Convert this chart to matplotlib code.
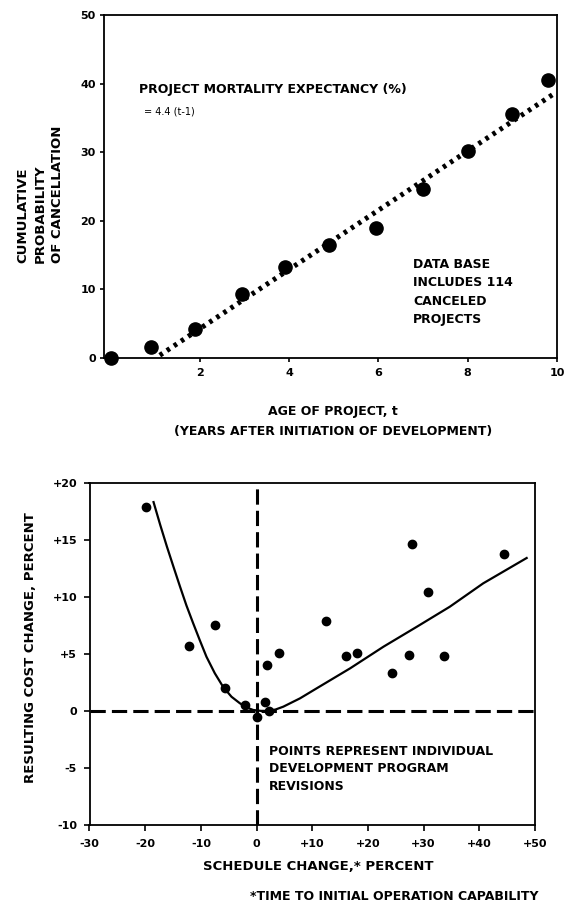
"""Project cancellation probability and cost vs. schedule change (two stacked panels)."""
import matplotlib
matplotlib.use("Agg")
import matplotlib.pyplot as plt

W, H = 566, 908

# --- top panel: cumulative probability of cancellation
age_years = [0.0, 0.9, 1.9, 2.95, 3.9, 4.9, 5.95, 7.0, 8.0, 9.0, 9.8]
cancel_pct = [0.0, 1.6, 4.3, 9.3, 13.2, 16.4, 19.0, 24.6, 30.2, 35.5, 40.5]
fit_age = [1.1, 9.95]
fit_pct = [0.4, 38.6]
top_xticks = [2, 4, 6, 8, 10]
top_yticks = [0, 10, 20, 30, 40, 50]

# --- bottom panel: cost change vs schedule change
sched_pct = [-19.9, -12.1, -7.4, -5.6, -2.0, 0.0, 1.5, 2.3, 1.9, 4.0,
             12.5, 16.0, 18.1, 24.4, 27.3, 27.9, 30.8, 33.7, 44.4]
cost_pct = [17.9, 5.7, 7.5, 2.0, 0.5, -0.5, 0.8, 0.0, 4.0, 5.05,
            7.9, 4.85, 5.05, 3.3, 4.9, 14.6, 10.4, 4.85, 13.75]
curve_sched = [-18.5, -17.3, -16.1, -14.9, -13.75, -12.6, -11.4, -10.2, -9.0,
               -7.5, -6.0, -4.5, -3.0, -1.8, -0.6, 0.8, 2.0, 3.4,
               4.8, 7.8, 10.8, 16.8, 22.8, 28.8, 34.7, 40.7, 48.5]
curve_cost = [18.3, 16.3, 14.4, 12.6, 10.9, 9.25, 7.7, 6.2, 4.75,
              3.3, 2.1, 1.24, 0.67, 0.3, 0.08, 0.0, 0.0, 0.12,
              0.37, 1.1, 1.98, 3.73, 5.63, 7.38, 9.13, 11.18, 13.4]
bot_xticks = [-30, -20, -10, 0, 10, 20, 30, 40, 50]
bot_xlabels = ["-30", "-20", "-10", "0", "+10", "+20", "+30", "+40", "+50"]
bot_yticks = [-10, -5, 0, 5, 10, 15, 20]
bot_ylabels = ["-10", "-5", "0", "+5", "+10", "+15", "+20"]


def box(left, top, right, bottom):
    """Pixel box -> figure fraction rect."""
    return [left / W, 1 - bottom / H, (right - left) / W, (bottom - top) / H]


def ftext(fig, x, y, s, **kw):
    kw.setdefault("fontweight", "bold")
    fig.text(x / W, 1 - y / H, s, **kw)


def style_axes(ax, pad_x, pad_y, tick_len):
    for sp in ax.spines.values():
        sp.set_linewidth(1.3)
    ax.tick_params(direction="out", length=tick_len, width=1.2, labelsize=8)
    ax.tick_params(axis="x", pad=pad_x)
    ax.tick_params(axis="y", pad=pad_y)
    for lab in ax.get_xticklabels() + ax.get_yticklabels():
        lab.set_fontweight("bold")


def main():
    plt.rcParams["font.family"] = "DejaVu Sans"
    fig = plt.figure(figsize=(W / 100, H / 100), dpi=100)

    # top panel
    ax1 = fig.add_axes(box(104, 15, 557, 358))
    ax1.plot(fit_age, fit_pct, color="k", linewidth=3.6, linestyle=(0, (0.7, 1.0)))
    ax1.plot(age_years, cancel_pct, "o", color="k", markersize=9.5, clip_on=False, zorder=3)
    ax1.set_xlim(-0.15, 10)
    ax1.set_ylim(0, 50)
    ax1.set_xticks(top_xticks)
    ax1.set_yticks(top_yticks)
    style_axes(ax1, pad_x=4, pad_y=3, tick_len=3)

    ftext(fig, 139, 89, "PROJECT MORTALITY EXPECTANCY (%)", fontsize=9, va="center")
    ftext(fig, 144, 111, "= 4.4 (t-1)", fontsize=7, fontweight="normal", va="center")
    ftext(fig, 413, 258, "DATA BASE\nINCLUDES 114\nCANCELED\nPROJECTS",
          fontsize=9, va="top", linespacing=1.55)
    ftext(fig, 40, 263, "CUMULATIVE\nPROBABILITY\nOF CANCELLATION", fontsize=9.5,
          rotation=90, ha="center", va="bottom", multialignment="left", linespacing=1.45)
    ftext(fig, 333, 412, "AGE OF PROJECT, t", fontsize=9, ha="center", va="center")
    ftext(fig, 333, 431, "(YEARS AFTER INITIATION OF DEVELOPMENT)", fontsize=9,
          ha="center", va="center")

    # bottom panel
    ax2 = fig.add_axes(box(89.5, 482.7, 535, 825))
    dash = (0, (5, 2))
    ax2.axhline(0, color="k", linewidth=2.2, linestyle=dash, zorder=1)
    ax2.axvline(0, color="k", linewidth=2.2, linestyle=dash, zorder=1)
    ax2.plot(curve_sched, curve_cost, color="k", linewidth=1.6, zorder=2)
    ax2.plot(sched_pct, cost_pct, "o", color="k", markersize=6, zorder=3)
    ax2.set_xlim(-30, 50)
    ax2.set_ylim(-10, 20)
    ax2.set_xticks(bot_xticks)
    ax2.set_xticklabels(bot_xlabels)
    ax2.set_yticks(bot_yticks)
    ax2.set_yticklabels(bot_ylabels)
    style_axes(ax2, pad_x=6, pad_y=5, tick_len=4)

    ftext(fig, 269, 745, "POINTS REPRESENT INDIVIDUAL\nDEVELOPMENT PROGRAM\nREVISIONS",
          fontsize=9, va="top", linespacing=1.45)
    ftext(fig, 31, 648, "RESULTING COST CHANGE, PERCENT", fontsize=9.5,
          rotation=90, ha="center", va="center")
    ftext(fig, 318, 866, "SCHEDULE CHANGE,* PERCENT", fontsize=9.5, ha="center", va="center")
    ftext(fig, 538, 897, "*TIME TO INITIAL OPERATION CAPABILITY", fontsize=9,
          ha="right", va="center")

    fig.savefig("out.png", dpi=100)


if __name__ == "__main__":
    main()
